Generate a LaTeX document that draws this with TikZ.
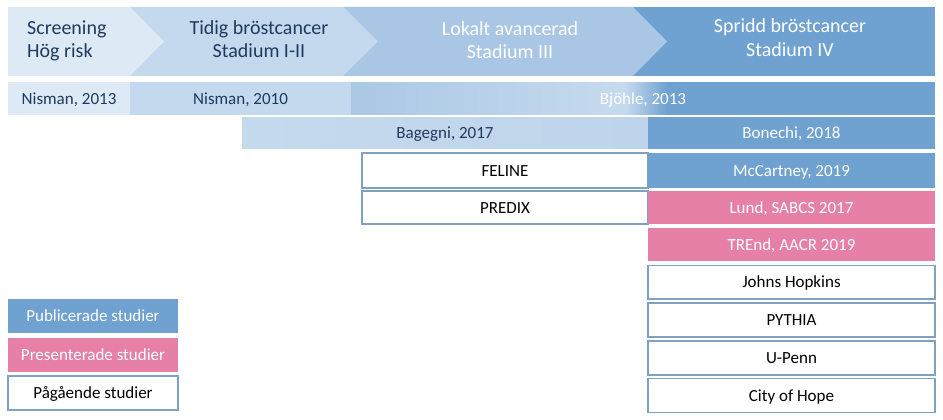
\documentclass[tikz,border=0pt]{standalone}
\usepackage{fontspec}
\setmainfont{Carlito}
\definecolor{cA}{HTML}{DDEAF6}
\definecolor{cB}{HTML}{C5D9EE}
\definecolor{cC}{HTML}{A9C7E5}
\definecolor{cD}{HTML}{6FA2D0}
\definecolor{cPink}{HTML}{E680A6}
\definecolor{cBord}{HTML}{7FA2C2}
\definecolor{cDark}{HTML}{1F3A5F}
\definecolor{cLiteA}{HTML}{ABC8E5}
\definecolor{cLiteB}{HTML}{C6DAEE}
\definecolor{cBagA}{HTML}{C6DAEE}
\definecolor{cBagB}{HTML}{BDD4EA}
\tikzset{
  basebox/.style={inner sep=0pt, outer sep=0pt, anchor=north west,
    text height=11pt, text depth=0pt, font=\fontsize{17}{20}\selectfont},
  pubbox/.style={basebox, fill=cD, text=white},
  presbox/.style={basebox, fill=cPink, text=white},
  ongobox/.style={basebox, fill=white, draw=cBord, line width=1.1pt, text=black},
  lightbox/.style={basebox, text=cDark},
  chevtext/.style={inner sep=0pt, anchor=base, font=\fontsize{20}{23}\selectfont},
}
\begin{document}
\begin{tikzpicture}[x=1pt,y=-1pt]
\useasboundingbox (0,0) rectangle (943,420);
\fill[white] (0,0) rectangle (943,420);
% chevrons (drawn right to left so each point overlaps the next)
\fill[cD] (633,7) -- (935,7) -- (935,76) -- (633,76) -- cycle;
\fill[cC] (343,7) -- (633,7) -- (667,41.5) -- (633,76) -- (343,76) -- cycle;
\fill[cB] (130,7) -- (343,7) -- (378,41.5) -- (343,76) -- (130,76) -- cycle;
\fill[cA] (8,7) -- (130,7) -- (164,41.5) -- (130,76) -- (8,76) -- cycle;
\node[chevtext, anchor=base west, text=cDark] (c1a) at (27,35) {Screening};
\node[chevtext, anchor=base west, text=cDark] (c1b) at (27,58) {Hög risk};
\node[chevtext, text=cDark] (c2a) at (259,35) {Tidig bröstcancer};
\node[chevtext, text=cDark] (c2b) at (259,58) {Stadium I-II};
\node[chevtext, text=white] (c3a) at (510,36) {Lokalt avancerad};
\node[chevtext, text=white] (c3b) at (510,59) {Stadium III};
\node[chevtext, text=white] (c4a) at (790,33) {Spridd bröstcancer};
\node[chevtext, text=white] (c4b) at (790,57) {Stadium IV};
% row 2
\node[lightbox, fill=cA, minimum width=122pt, minimum height=33pt] (n13) at (8,82) {Nisman, 2013};
\node[lightbox, fill=cB, minimum width=221pt, minimum height=33pt] (n10) at (130,82) {Nisman, 2010};
\foreach \i in {0,...,273}{%
  \pgfmathsetmacro\p{\i*(100/273)}%
  \fill[cLiteB!\p!cLiteA] (351+\i,82) rectangle (352.6+\i,115);}
\foreach \i in {0,...,42}{%
  \pgfmathsetmacro\p{\i*(100/42)}%
  \fill[cD!\p!cLiteB] (625+\i,82) rectangle (626.6+\i,115);}
\fill[cD] (668,82) rectangle (935,115);
\node[basebox, text=white, minimum width=584pt, minimum height=33pt] (bj) at (351,82) {Bjöhle, 2013};
% row 3
\foreach \i in {0,...,405}{%
  \pgfmathsetmacro\p{\i*(100/405)}%
  \fill[cBagB!\p!cBagA] (242+\i,117) rectangle (243.6+\i,149);}
\node[lightbox, minimum width=406pt, minimum height=32pt] (bag) at (242,117) {Bagegni, 2017};
\node[pubbox, minimum width=287pt, minimum height=32pt] (bon) at (648,117) {Bonechi, 2018};
% row 4
\node[ongobox, minimum width=286pt, minimum height=35pt] (fel) at (362,153) {FELINE};
\node[pubbox, minimum width=287pt, minimum height=35pt] (mcc) at (648,153) {McCartney, 2019};
% row 5
\node[ongobox, minimum width=286pt, minimum height=33pt] (pre) at (362,191) {PREDIX};
\node[presbox, minimum width=287pt, minimum height=33pt] (lund) at (648,191) {Lund, SABCS 2017};
% right column
\node[presbox, minimum width=287pt, minimum height=33pt] (tre) at (648,228) {TREnd, AACR 2019};
\node[ongobox, minimum width=287pt, minimum height=33.5pt] (jh) at (648,265.5) {Johns Hopkins};
\node[ongobox, minimum width=287pt, minimum height=34pt] (py) at (648,303) {PYTHIA};
\node[ongobox, minimum width=287pt, minimum height=34pt] (up) at (648,341) {U-Penn};
\node[ongobox, minimum width=287pt, minimum height=34pt] (coh) at (648,378.5) {City of Hope};
% legend
\node[pubbox, minimum width=170pt, minimum height=34pt] (lg1) at (8,299) {Publicerade studier};
\node[presbox, minimum width=170pt, minimum height=34pt] (lg2) at (8,337.5) {Presenterade studier};
\node[ongobox, minimum width=170pt, minimum height=34pt] (lg3) at (8,376) {Pågående studier};
\end{tikzpicture}
\end{document}
